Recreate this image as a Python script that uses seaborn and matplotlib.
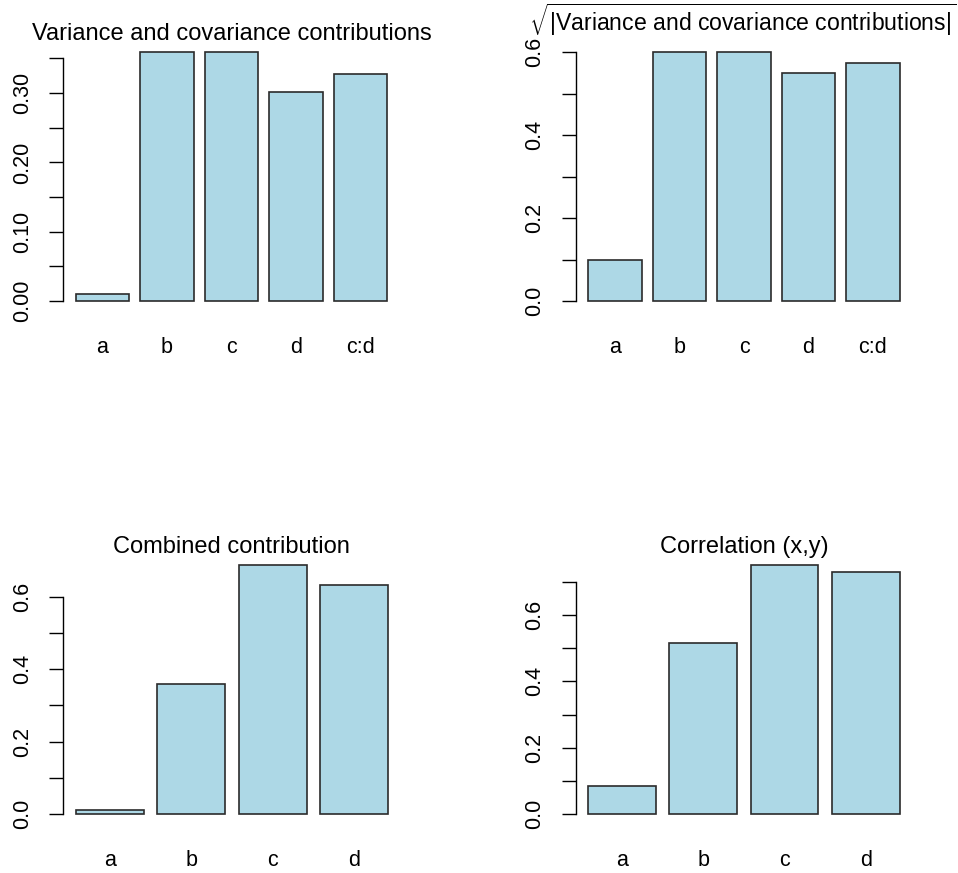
import numpy as np
import pandas as pd
import matplotlib
matplotlib.use("Agg")
import matplotlib.pyplot as plt
import seaborn as sns

# ---------------- data ----------------
cats5 = ["a", "b", "c", "d", "c:d"]
cats4 = ["a", "b", "c", "d"]

var_cov = [0.0097, 0.359, 0.359, 0.3015, 0.328]
sqrt_abs_var_cov = [0.099, 0.600, 0.600, 0.549, 0.574]
combined = [0.012, 0.3586, 0.6876, 0.6323]
correlation = [0.0844, 0.5146, 0.7498, 0.7296]

title_tl = "Variance and covariance contributions"
title_tr = r"$\sqrt{|\mathrm{Variance\ and\ covariance\ contributions}|}$"
title_bl = "Combined contribution"
title_br = "Correlation (x,y)"

ticks_tl = [0.00, 0.05, 0.10, 0.15, 0.20, 0.25, 0.30, 0.35]
labels_tl = ["0.00", "", "0.10", "", "0.20", "", "0.30", ""]
ticks_06 = [0.0, 0.1, 0.2, 0.3, 0.4, 0.5, 0.6]
labels_06 = ["0.0", "", "0.2", "", "0.4", "", "0.6"]
ticks_07 = [0.0, 0.1, 0.2, 0.3, 0.4, 0.5, 0.6, 0.7]
labels_07 = ["0.0", "", "0.2", "", "0.4", "", "0.6", ""]

# ---------------- style ----------------
sns.set_style("ticks")
plt.rcParams["font.family"] = ["Liberation Sans", "DejaVu Sans"]
plt.rcParams["mathtext.fontset"] = "custom"
plt.rcParams["mathtext.rm"] = "Liberation Sans"
plt.rcParams["mathtext.it"] = "Liberation Sans:italic"
plt.rcParams["mathtext.bf"] = "Liberation Sans:bold"
plt.rcParams["text.color"] = "black"

W, H = 958, 873
fig = plt.figure(figsize=(W / 100, H / 100), dpi=100)
fig.patch.set_facecolor("white")

BAR_W = 1 / 1.2
TICK_FS = 15.5
TITLE_FS = 17


def px_axes(l, t, r, b):
    return fig.add_axes([l / W, 1 - b / H, (r - l) / W, (b - t) / H])


def draw(ax, cats, vals, ticks, labels):
    df = pd.DataFrame({"cat": cats, "val": vals})
    sns.barplot(data=df, x="cat", y="val", color="#ADD8E6", saturation=1,
                edgecolor="#2b2b2b", linewidth=1.2, width=BAR_W, ax=ax)
    n = len(cats)
    rng = (n - 1) + BAR_W
    ax.set_xlim(-BAR_W / 2 - 0.04 * rng, n - 1 + BAR_W / 2 + 0.04 * rng)
    top = max(vals)
    ax.set_ylim(-0.04 * top, 1.04 * top)
    ax.set_yticks(ticks)
    ax.set_yticklabels(labels, rotation=90, va="center")
    ax.set_xlabel("")
    ax.set_ylabel("")
    for s in ["top", "right", "bottom"]:
        ax.spines[s].set_visible(False)
    ax.spines["left"].set_bounds(ticks[0], ticks[-1])
    ax.spines["left"].set_color("black")
    ax.spines["left"].set_linewidth(1.0)
    ax.tick_params(axis="y", direction="out", length=10, width=1.0,
                   color="black", pad=12, labelsize=TICK_FS, labelcolor="black")
    ax.tick_params(axis="x", length=0, pad=19, labelsize=TICK_FS,
                   labelcolor="black")
    ax.set_facecolor("white")


ax1 = px_axes(63.2, 42.2, 399.9, 311)
draw(ax1, cats5, var_cov, ticks_tl, labels_tl)
ax2 = px_axes(575.8, 42.4, 912.2, 311)
draw(ax2, cats5, sqrt_abs_var_cov, ticks_06, labels_06)
ax3 = px_axes(63.2, 555.3, 400.5, 824)
draw(ax3, cats4, combined, ticks_06, labels_06)
ax4 = px_axes(575.7, 555.3, 912, 824)
draw(ax4, cats4, correlation, ticks_07, labels_07)

fig.text((63.2 + 399.9) / 2 / W, 1 - 40 / H, title_tl, ha="center",
         va="baseline", fontsize=TITLE_FS, color="black")
fig.text(742.5 / W, 1 - 30.5 / H, title_tr, ha="center",
         va="baseline", fontsize=16.6, color="black")
fig.text((63.2 + 400.5) / 2 / W, 1 - 553 / H, title_bl, ha="center",
         va="baseline", fontsize=TITLE_FS, color="black")
fig.text((575.7 + 912) / 2 / W, 1 - 553 / H, title_br, ha="center",
         va="baseline", fontsize=TITLE_FS, color="black")

fig.savefig("out.png", dpi=100, facecolor="white")
